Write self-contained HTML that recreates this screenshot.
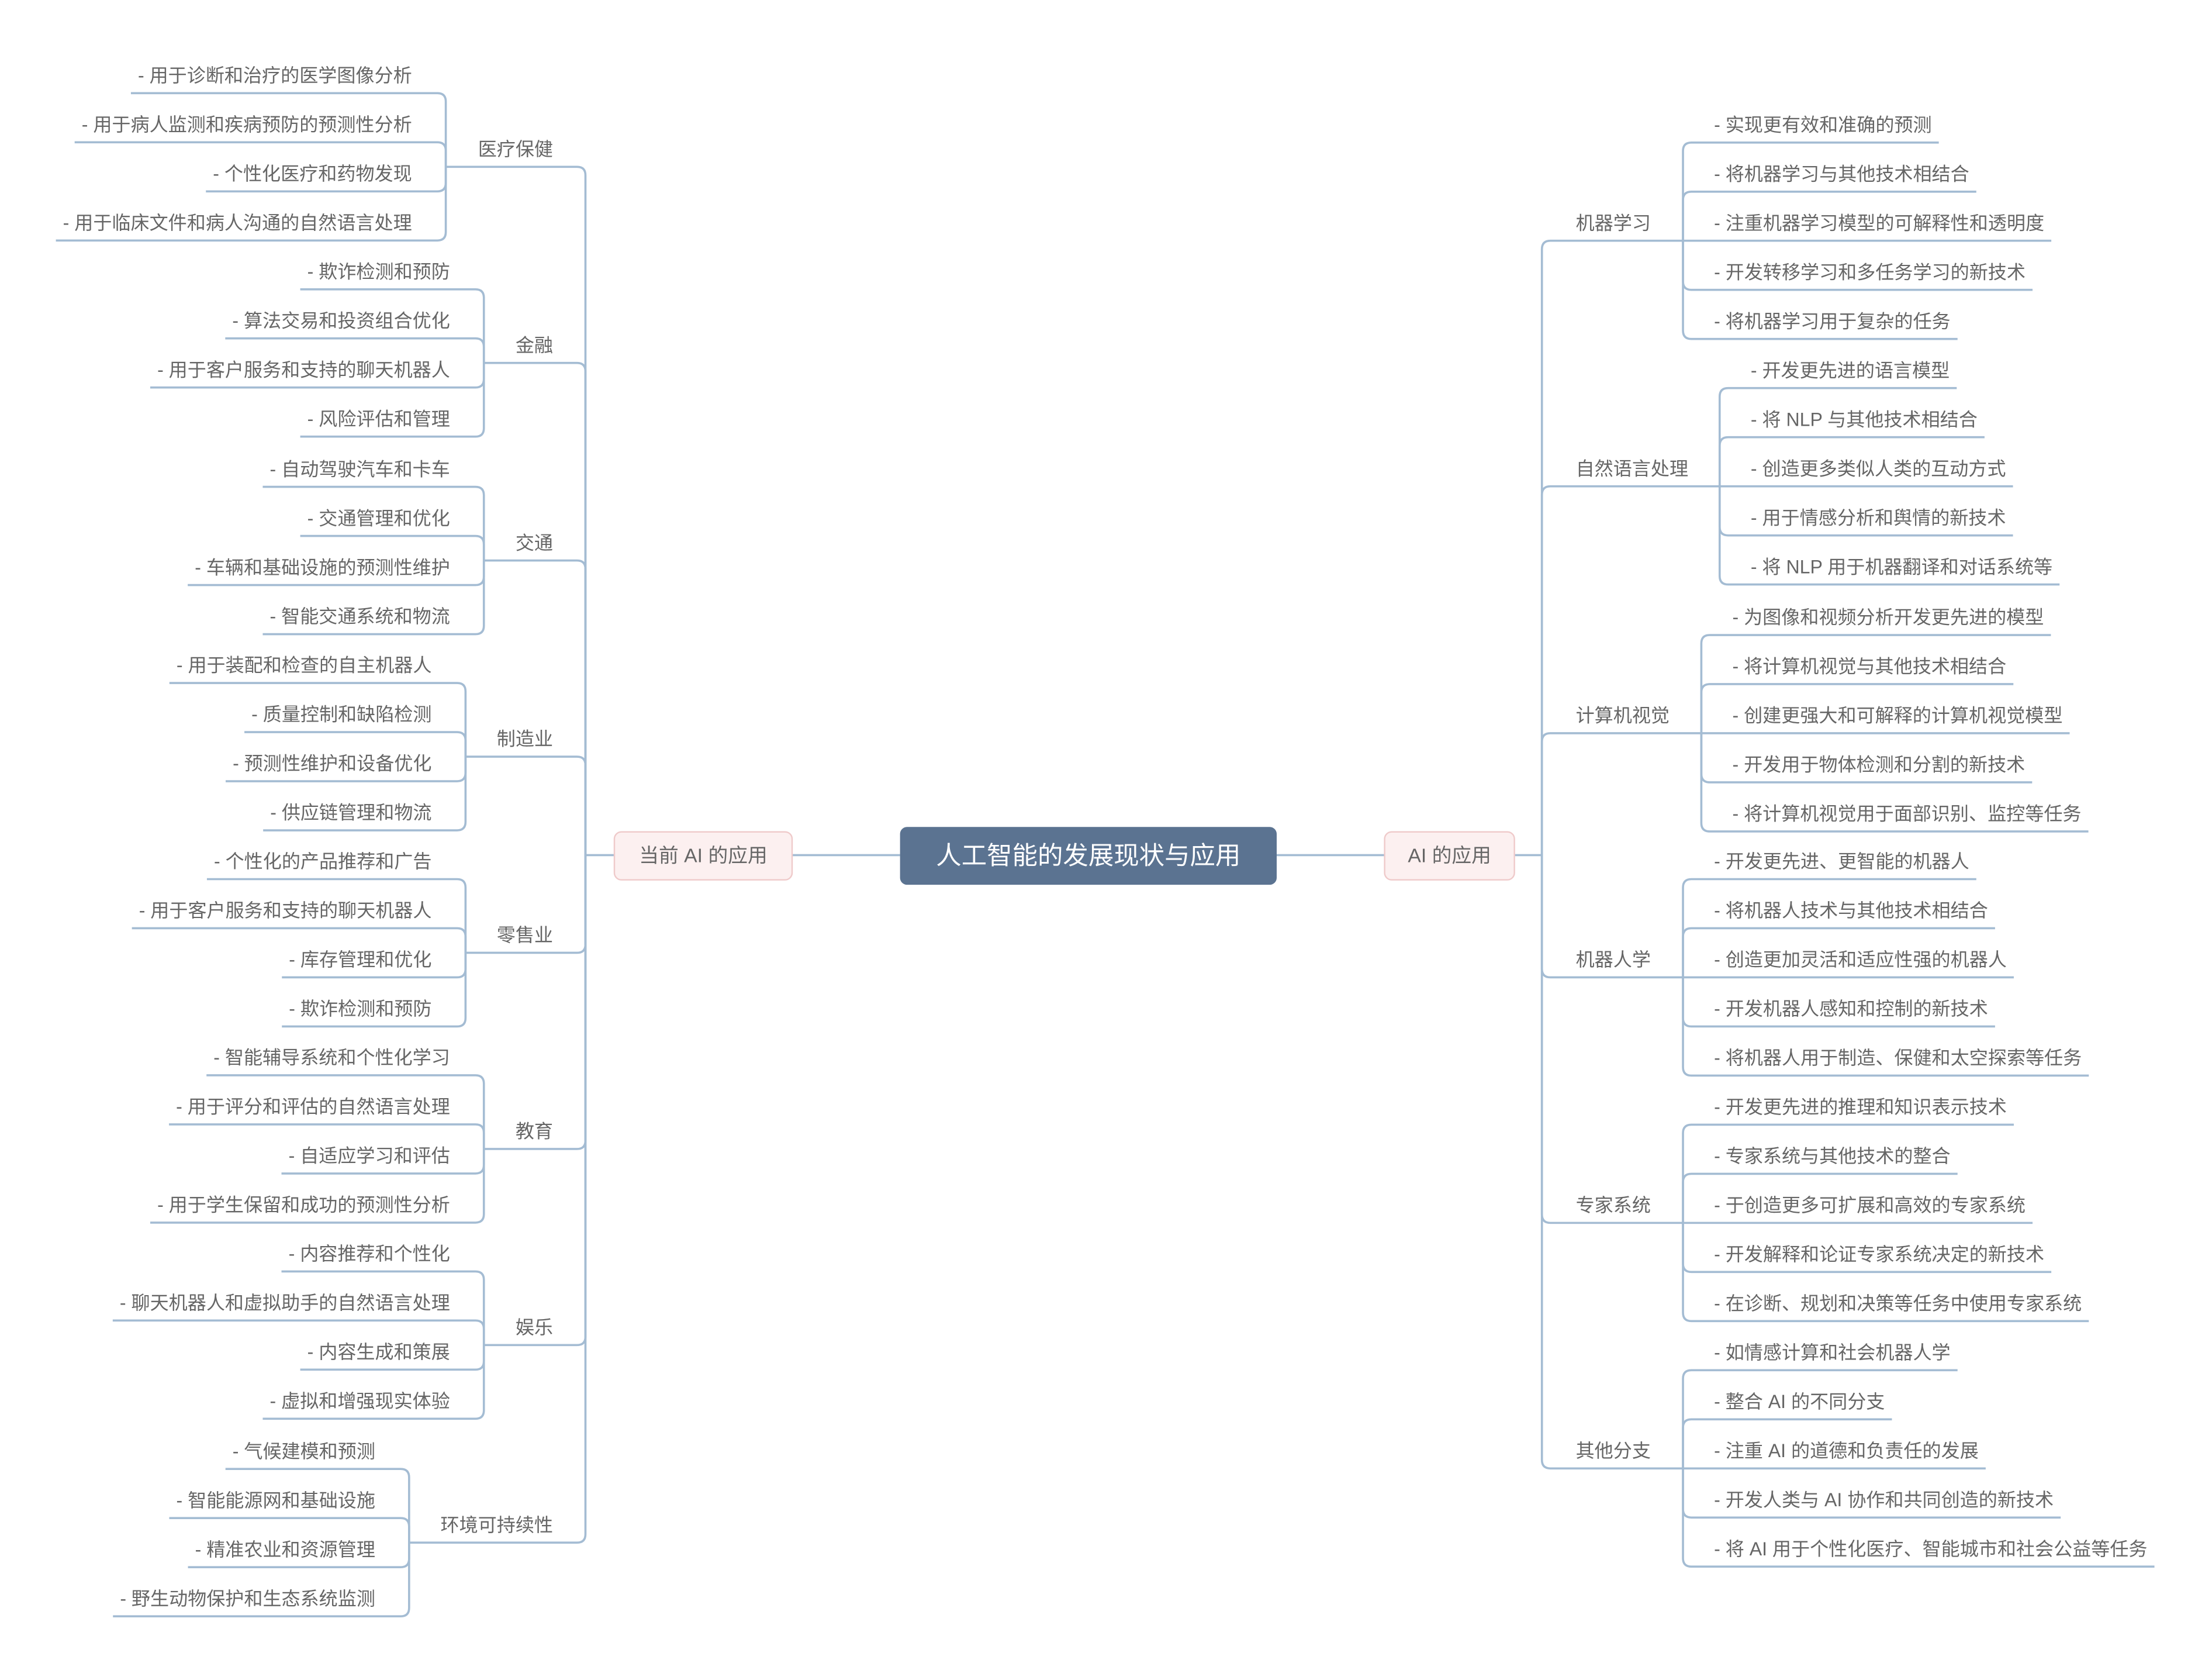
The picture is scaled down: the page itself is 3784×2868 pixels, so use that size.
<!DOCTYPE html>
<html><head><meta charset="utf-8">
<style>
html,body{margin:0;padding:0;background:#fff;width:3784px;height:2868px;overflow:hidden}
svg text{font-family:"Liberation Sans","Noto Sans CJK SC",sans-serif}
</style></head>
<body>
<svg id="s" xmlns="http://www.w3.org/2000/svg" width="3784" height="2868" viewBox="0 0 1568 1188.4">
<g id="lines" fill="none" stroke="#a4bcd3" stroke-width="1.5"></g>
<g id="txt" fill="#666" font-size="13.3"></g>
<rect x="638" y="586" width="267" height="41" rx="5" fill="#5b7391"/>
<text x="771.5" y="612.5" text-anchor="middle" font-size="18" fill="#fff">人工智能的发展现状与应用</text>
<rect x="435.5" y="589.5" width="126" height="34" rx="5" fill="#fcf0f0" stroke="#efcaca"/>
<text x="498.5" y="611" text-anchor="middle" font-size="14" fill="#666">当前 AI 的应用</text>
<rect x="981.5" y="589.5" width="92" height="34" rx="5" fill="#fcf0f0" stroke="#efcaca"/>
<text x="1027.5" y="611" text-anchor="middle" font-size="14" fill="#666">AI 的应用</text>
</svg>
<script>
var L=document.getElementById('lines'),T=document.getElementById('txt'),NS='http://www.w3.org/2000/svg';
function p(d){var e=document.createElementNS(NS,'path');e.setAttribute('d',d);L.appendChild(e);}
function t(x,y,s,a){var e=document.createElementNS(NS,'text');e.setAttribute('x',x);e.setAttribute('y',y);e.setAttribute('text-anchor',a);e.textContent=s;T.appendChild(e);return e.getComputedTextLength();}
var r=6;
function curve(x1,y,x2,ty){
 var dx=x2>x1?1:-1, dy=ty>y?1:-1;
 if(Math.abs(ty-y)<r){return 'M'+x1+' '+y+'H'+x2+(Math.abs(ty-y)>0.5?'V'+ty:'');}
 return 'M'+x1+' '+y+'H'+(x2-dx*r)+'Q'+x2+' '+y+' '+x2+' '+(y+dy*r)+'V'+ty;
}
var left=[
['医疗保健',316,66,['- 用于诊断和治疗的医学图像分析','- 用于病人监测和疾病预防的预测性分析','- 个性化医疗和药物发现','- 用于临床文件和病人沟通的自然语言处理']],
['金融',343,205,['- 欺诈检测和预防','- 算法交易和投资组合优化','- 用于客户服务和支持的聊天机器人','- 风险评估和管理']],
['交通',343,345,['- 自动驾驶汽车和卡车','- 交通管理和优化','- 车辆和基础设施的预测性维护','- 智能交通系统和物流']],
['制造业',330,484,['- 用于装配和检查的自主机器人','- 质量控制和缺陷检测','- 预测性维护和设备优化','- 供应链管理和物流']],
['零售业',330,623,['- 个性化的产品推荐和广告','- 用于客户服务和支持的聊天机器人','- 库存管理和优化','- 欺诈检测和预防']],
['教育',343,762,['- 智能辅导系统和个性化学习','- 用于评分和评估的自然语言处理','- 自适应学习和评估','- 用于学生保留和成功的预测性分析']],
['娱乐',343,901,['- 内容推荐和个性化','- 聊天机器人和虚拟助手的自然语言处理','- 内容生成和策展','- 虚拟和增强现实体验']],
['环境可持续性',290,1041,['- 气候建模和预测','- 智能能源网和基础设施','- 精准农业和资源管理','- 野生动物保护和生态系统监测']]
];
var TL=415;
left.forEach(function(c){
 var bx=c[1],y0=c[2],n=c[3].length,m=y0+(n-1)*34.8/2;
 c[3].forEach(function(s,i){var y=y0+i*34.8;var w=t(bx-24,y-8,s,'end');p(curve(bx-24-w-5,y,bx,m));});
 t(392,m-8,c[0],'end');
 p(curve(bx,m,TL,606));
});
p('M'+TL+' 606H435.5');p('M561.5 606H638');p('M905 606H981.5');p('M1073.5 606H1093');
var right=[
['机器学习',1193,101,['- 实现更有效和准确的预测','- 将机器学习与其他技术相结合','- 注重机器学习模型的可解释性和透明度','- 开发转移学习和多任务学习的新技术','- 将机器学习用于复杂的任务']],
['自然语言处理',1219,275,['- 开发更先进的语言模型','- 将 NLP 与其他技术相结合','- 创造更多类似人类的互动方式','- 用于情感分析和舆情的新技术','- 将 NLP 用于机器翻译和对话系统等']],
['计算机视觉',1206,450,['- 为图像和视频分析开发更先进的模型','- 将计算机视觉与其他技术相结合','- 创建更强大和可解释的计算机视觉模型','- 开发用于物体检测和分割的新技术','- 将计算机视觉用于面部识别、监控等任务']],
['机器人学',1193,623,['- 开发更先进、更智能的机器人','- 将机器人技术与其他技术相结合','- 创造更加灵活和适应性强的机器人','- 开发机器人感知和控制的新技术','- 将机器人用于制造、保健和太空探索等任务']],
['专家系统',1193,797,['- 开发更先进的推理和知识表示技术','- 专家系统与其他技术的整合','- 于创造更多可扩展和高效的专家系统','- 开发解释和论证专家系统决定的新技术','- 在诊断、规划和决策等任务中使用专家系统']],
['其他分支',1193,971,['- 如情感计算和社会机器人学','- 整合 AI 的不同分支','- 注重 AI 的道德和负责任的发展','- 开发人类与 AI 协作和共同创造的新技术','- 将 AI 用于个性化医疗、智能城市和社会公益等任务']]
];
var TR=1093;
right.forEach(function(c){
 var bx=c[1],y0=c[2],n=c[3].length,m=y0+(n-1)*34.8/2;
 c[3].forEach(function(s,i){var y=y0+i*34.8;var w=t(bx+22,y-8,s,'start');p(curve(bx+22+w+5,y,bx,m));});
 t(1117,m-8,c[0],'start');
 p(curve(bx,m,TR,606));
});
</script>
</body></html>
